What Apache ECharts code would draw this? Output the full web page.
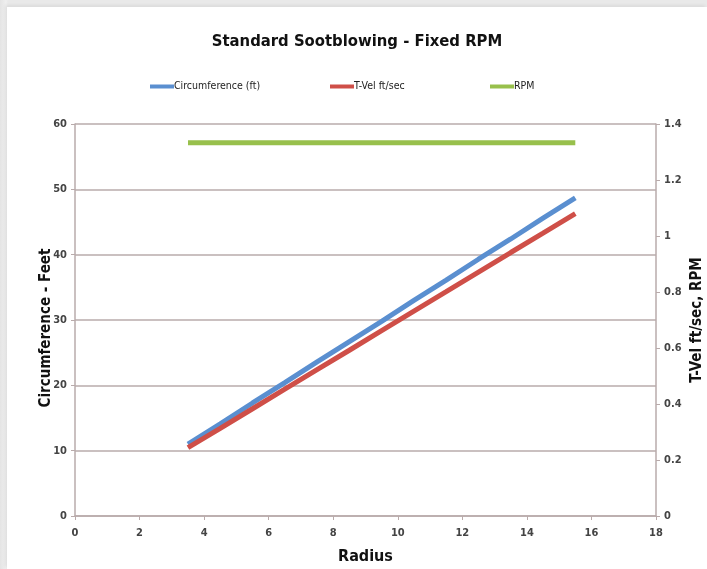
<!DOCTYPE html>
<html>
<head>
<meta charset="utf-8">
<script src="https://cdn.jsdelivr.net/npm/echarts@6/dist/echarts.min.js"></script>
<style>
html,body{margin:0;padding:0;background:#e9e9e9;width:707px;height:569px;overflow:hidden;}
#wrap{position:absolute;left:0;top:0;width:707px;height:569px;background:linear-gradient(to right,#e4e4e4 0,#efefef 6px,rgba(255,255,255,0) 8px);}
#chart{position:absolute;left:7px;top:7px;width:700px;height:562px;background:#fff;box-shadow:-2px -2px 3px rgba(0,0,0,0.06);}
</style>
</head>
<body>
<div id="wrap"></div>
<div id="chart"></div>
<script>
const radius = [3.5, 4.5, 5.5, 6.5, 7.5, 8.5, 9.5, 10.5, 11.5, 12.5, 13.5, 14.5, 15.5];
const circumference = [11.0, 14.1, 17.3, 20.4, 23.6, 26.7, 29.8, 33.0, 36.1, 39.3, 42.4, 45.6, 48.7];
const tVel = [0.244, 0.313, 0.383, 0.453, 0.523, 0.592, 0.662, 0.732, 0.801, 0.871, 0.941, 1.010, 1.080];
const rpm = [1.333, 1.333, 1.333, 1.333, 1.333, 1.333, 1.333, 1.333, 1.333, 1.333, 1.333, 1.333, 1.333];
const seriesNames = ['Circumference (ft)', 'T-Vel ft/sec', 'RPM'];

const FONT = "'Liberation Sans Narrow', 'DejaVu Sans Condensed', 'Liberation Sans', sans-serif";
const zip = (xs, ys) => xs.map((x, i) => [x, ys[i]]);
const axisCol = '#b9abab';
const labelStyle = { color: '#444', fontFamily: FONT, fontWeight: 'bold', fontSize: 11 };

const chart = echarts.init(document.getElementById('chart'));
const legendBase = {
  top: 69, itemWidth: 24, itemHeight: 4, icon: 'rect', itemGap: 0,
  textStyle: { color: '#222', fontFamily: FONT, fontSize: 10.5, padding: [0, 0, 0, -5] },
  selectedMode: false
};
chart.setOption({
  animation: false,
  color: ['#5a8fd0', '#cf4f48', '#98c04c'],
  title: {
    text: 'Standard Sootblowing - Fixed RPM',
    left: 'center', top: 21,
    textStyle: { fontFamily: FONT, fontWeight: 'bold', fontSize: 16.5, color: '#111' }
  },
  legend: [
    Object.assign({}, legendBase, { left: 138, data: [seriesNames[0]] }),
    Object.assign({}, legendBase, { left: 318, data: [seriesNames[1]] }),
    Object.assign({}, legendBase, { left: 478, data: [seriesNames[2]] })
  ],
  grid: { left: 68, right: 51, top: 117, bottom: 53, containLabel: false, outerBoundsMode: 'none' },
  xAxis: {
    type: 'value', min: 0, max: 18, interval: 2,
    name: 'Radius', nameLocation: 'middle', nameGap: 33,
    nameTextStyle: { fontFamily: FONT, fontWeight: 'bold', fontSize: 16, color: '#111' },
    axisLine: { show: true, lineStyle: { color: axisCol, width: 1.5 } },
    axisTick: { show: true, length: 4, lineStyle: { color: axisCol } },
    axisLabel: Object.assign({ margin: 12 }, labelStyle),
    splitLine: { show: false }
  },
  yAxis: [
    {
      type: 'value', min: 0, max: 60, interval: 10, position: 'left',
      name: 'Circumference - Feet', nameLocation: 'middle', nameGap: 21, nameRotate: 90,
      nameMoveOverlap: false,
      nameTextStyle: { fontFamily: FONT, fontWeight: 'bold', fontSize: 15, color: '#111', padding: [0, 16, 0, 0] },
      axisLine: { show: true, lineStyle: { color: axisCol, width: 1.5 } },
      axisTick: { show: true, length: 4, lineStyle: { color: axisCol } },
      axisLabel: Object.assign({ margin: 8 }, labelStyle),
      splitLine: { show: true, lineStyle: { color: axisCol, width: 1.5 } }
    },
    {
      type: 'value', min: 0, max: 1.4, interval: 0.2, position: 'right',
      name: 'T-Vel ft/sec, RPM', nameLocation: 'middle', nameGap: 34, nameRotate: 90,
      nameMoveOverlap: false,
      nameTextStyle: { fontFamily: FONT, fontWeight: 'bold', fontSize: 15, color: '#111' },
      axisLine: { show: true, lineStyle: { color: axisCol, width: 1.5 } },
      axisTick: { show: true, length: 4, lineStyle: { color: axisCol } },
      axisLabel: Object.assign({ margin: 8 }, labelStyle),
      splitLine: { show: false }
    }
  ],
  series: [
    { name: seriesNames[0], type: 'line', yAxisIndex: 0, showSymbol: false, symbol: 'none',
      lineStyle: { width: 5 }, data: zip(radius, circumference), z: 3 },
    { name: seriesNames[1], type: 'line', yAxisIndex: 1, showSymbol: false, symbol: 'none',
      lineStyle: { width: 5 }, data: zip(radius, tVel), z: 4 },
    { name: seriesNames[2], type: 'line', yAxisIndex: 1, showSymbol: false, symbol: 'none',
      lineStyle: { width: 5 }, data: zip(radius, rpm), z: 2 }
  ]
});
</script>
</body>
</html>
